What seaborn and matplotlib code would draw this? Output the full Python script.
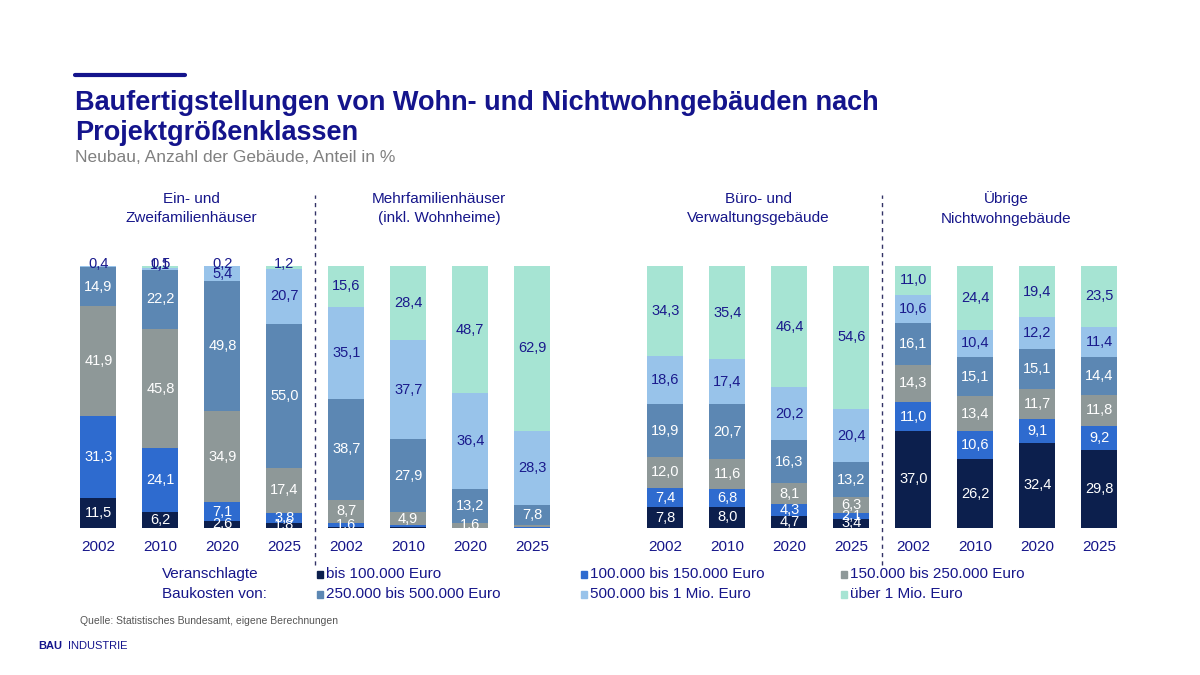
import matplotlib
matplotlib.use("Agg")
import matplotlib.pyplot as plt
import seaborn as sns
import numpy as np

sns.set_theme(style="white")
plt.rcParams['font.family'] = ['Liberation Sans', 'DejaVu Sans']

groups = ["Ein- und\nZweifamilienhäuser", "Mehrfamilienhäuser\n(inkl. Wohnheime)",
          "Büro- und\nVerwaltungsgebäude", "Übrige\nNichtwohngebäude"]
years = ["2002", "2010", "2020", "2025"]
classes = ["bis 100.000 Euro", "100.000 bis 150.000 Euro", "150.000 bis 250.000 Euro",
           "250.000 bis 500.000 Euro", "500.000 bis 1 Mio. Euro", "über 1 Mio. Euro"]
# per group: list of years, each bottom->top classes
efh = [[11.5, 31.3, 41.9, 14.9, 0.4, 0.0],
       [6.2, 24.1, 45.8, 22.2, 1.1, 0.5],
       [2.6, 7.1, 34.9, 49.8, 5.4, 0.2],
       [1.8, 3.8, 17.4, 55.0, 20.7, 1.2]]
mfh = [[0.3, 1.6, 8.7, 38.7, 35.1, 15.6],
       [0.3, 0.8, 4.9, 27.9, 37.7, 28.4],
       [0.05, 0.05, 1.6, 13.2, 36.4, 48.7],
       [0.1, 0.1, 0.8, 7.8, 28.3, 62.9]]
buero = [[7.8, 7.4, 12.0, 19.9, 18.6, 34.3],
         [8.0, 6.8, 11.6, 20.7, 17.4, 35.4],
         [4.7, 4.3, 8.1, 16.3, 20.2, 46.4],
         [3.4, 2.1, 6.3, 13.2, 20.4, 54.6]]
uebrige = [[37.0, 11.0, 14.3, 16.1, 10.6, 11.0],
           [26.2, 10.6, 13.4, 15.1, 10.4, 24.4],
           [32.4, 9.1, 11.7, 15.1, 12.2, 19.4],
           [29.8, 9.2, 11.8, 14.4, 11.4, 23.5]]
data = [efh, mfh, buero, uebrige]

colors = ["#0c1f4d", "#2e6bcf", "#8e9898", "#5c87b3", "#98c3ea", "#a6e4d3"]
txtcol = ["white", "white", "white", "white", "#1a1a8c", "#1a1a8c"]
navy = "#16168a"

fig = plt.figure(figsize=(12, 6.75), dpi=100)
ax = fig.add_axes([0.051, 0.218, 0.896, 0.388])
offs = [0, 4, 9.15, 13.15]
for g, gd in enumerate(data):
    for i, vals in enumerate(gd):
        x = offs[g] + i
        bottom = 0
        for c, v in enumerate(vals):
            ax.bar(x, v, bottom=bottom, width=0.58, color=colors[c], edgecolor="none")
            if v >= 1 or (g == 0 and v > 0):
                yy = bottom + v / 2
                if v < 1.5 and c >= 4:
                    yy = bottom + v + 0.8
                ax.text(x, yy, f"{v:.1f}".replace(".", ","), ha="center", va="center",
                        fontsize=10.5, color=txtcol[c])
            bottom += v
        ax.text(x, -4.5, years[i], ha="center", va="top", fontsize=11, color=navy)
    ax.text(offs[g] + 1.5, 122, groups[g], ha="center", va="center", fontsize=11,
            color=navy, linespacing=1.5)
ax.set_xlim(-0.6, 16.75)
ax.set_ylim(0, 100)
ax.axis("off")
for xd in [3.5, 12.65]:
    ax.plot([xd, xd], [-14, 127], ls=(0, (3, 3)), color="#333366", lw=1, clip_on=False)

# title
fig.add_artist(plt.Line2D([75/1200, 185/1200], [1-75/675]*2, color="#14148c", lw=3))
fig.text(75/1200, 1-118/675, "Baufertigstellungen von Wohn- und Nichtwohngebäuden nach\nProjektgrößenklassen",
         fontsize=19.5, fontweight="bold", color="#14148c", va="center", linespacing=1.15)
fig.text(75/1200, 1-157/675, "Neubau, Anzahl der Gebäude, Anteil in %", fontsize=12.5, color="#808080", va="center")

# legend
fig.text(162/1200, 1-574/675, "Veranschlagte", fontsize=11, color=navy, va="center")
fig.text(162/1200, 1-594/675, "Baukosten von:", fontsize=11, color=navy, va="center")
lx = [326, 590, 850]
for k, name in enumerate(classes):
    col, row = k % 3, k // 3
    xp = lx[col] / 1200
    yp = 1 - (574 + 20 * row) / 675
    fig.add_artist(plt.Rectangle((xp - 9/1200, yp - 3.5/675), 6/1200, 7/675,
                                 color=colors[k], transform=fig.transFigure))
    fig.text(xp, yp, name, fontsize=11, color=navy, va="center")

fig.text(80/1200, 1-621/675, "Quelle: Statistisches Bundesamt, eigene Berechnungen", fontsize=7.5, color="#555555", va="center")
fig.text(38/1200, 1-646/675, "BAU", fontsize=8, fontweight="bold", color="#14148c", va="center")
fig.text(68/1200, 1-646/675, "INDUSTRIE", fontsize=8, color="#14148c", va="center")

fig.savefig("out.png", dpi=100)
